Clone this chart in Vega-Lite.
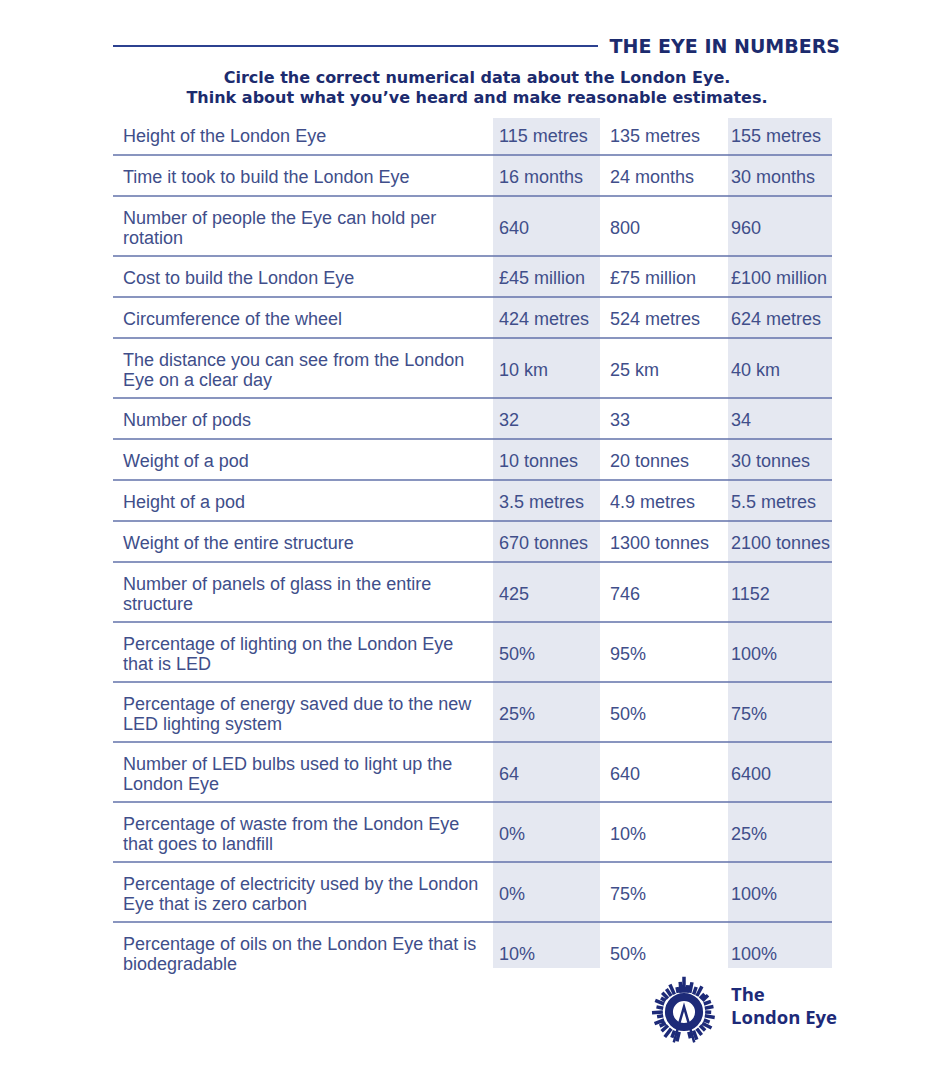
{
  "$schema": "https://vega.github.io/schema/vega-lite/v6.json",
  "width": 950,
  "height": 1080,
  "autosize": {"type": "fit", "contains": "padding"},
  "padding": 0,
  "background": "white",
  "config": {"view": {"stroke": null}},
  "datasets": {
    "rows": [
      {"q": "Height of the London Eye", "a": "115 metres", "b": "135 metres", "c": "155 metres"},
      {"q": "Time it took to build the London Eye", "a": "16 months", "b": "24 months", "c": "30 months"},
      {"q": "Number of people the Eye can hold per\nrotation", "a": "640", "b": "800", "c": "960"},
      {"q": "Cost to build the London Eye", "a": "£45 million", "b": "£75 million", "c": "£100 million"},
      {"q": "Circumference of the wheel", "a": "424 metres", "b": "524 metres", "c": "624 metres"},
      {"q": "The distance you can see from the London\nEye on a clear day", "a": "10 km", "b": "25 km", "c": "40 km"},
      {"q": "Number of pods", "a": "32", "b": "33", "c": "34"},
      {"q": "Weight of a pod", "a": "10 tonnes", "b": "20 tonnes", "c": "30 tonnes"},
      {"q": "Height of a pod", "a": "3.5 metres", "b": "4.9 metres", "c": "5.5 metres"},
      {"q": "Weight of the entire structure", "a": "670 tonnes", "b": "1300 tonnes", "c": "2100 tonnes"},
      {"q": "Number of panels of glass in the entire\nstructure", "a": "425", "b": "746", "c": "1152"},
      {"q": "Percentage of lighting on the London Eye\nthat is LED", "a": "50%", "b": "95%", "c": "100%"},
      {"q": "Percentage of energy saved due to the new\nLED lighting system", "a": "25%", "b": "50%", "c": "75%"},
      {"q": "Number of LED bulbs used to light up the\nLondon Eye", "a": "64", "b": "640", "c": "6400"},
      {"q": "Percentage of waste from the London Eye\nthat goes to landfill", "a": "0%", "b": "10%", "c": "25%"},
      {"q": "Percentage of electricity used by the London\nEye that is zero carbon", "a": "0%", "b": "75%", "c": "100%"},
      {"q": "Percentage of oils on the London Eye that is\nbiodegradable", "a": "10%", "b": "50%", "c": "100%"}
    ]
  },
  "layer": [
    {
      "data": {"name": "rows"},
      "transform": [
        {"window": [{"op": "row_number", "as": "idx"}]},
        {"calculate": "split(datum.q, '\\n')", "as": "qlines"},
        {"calculate": "length(datum.qlines) > 1 ? 60 : 41", "as": "h"},
        {"window": [{"op": "sum", "field": "h", "as": "cum"}], "sort": [{"field": "idx"}], "frame": [null, 0]},
        {"calculate": "114 + datum.cum", "as": "y1"},
        {"calculate": "datum.y1 - datum.h", "as": "y0"},
        {"calculate": "(datum.y0 + datum.y1) / 2 + 2.5", "as": "yc"},
        {"calculate": "datum.yc - (length(datum.qlines) - 1) * 10", "as": "ly"},
        {"calculate": "datum.idx == 1 ? datum.y0 + 4 : datum.y0", "as": "sy0"},
        {"calculate": "datum.idx == 17 ? datum.y1 - 14 : datum.y1", "as": "sy1"}
      ],
      "layer": [
        {
          "mark": {"type": "rect", "color": "#e5e8f1"},
          "encoding": {
            "x": {"datum": 493, "type": "quantitative", "scale": {"domain": [0, 950], "nice": false, "zero": false}, "axis": null},
            "x2": {"datum": 600},
            "y": {"field": "sy0", "type": "quantitative", "scale": {"domain": [0, 1080], "nice": false, "zero": false, "reverse": true}, "axis": null},
            "y2": {"field": "sy1"}
          }
        },
        {
          "mark": {"type": "rect", "color": "#e5e8f1"},
          "encoding": {
            "x": {"datum": 728, "type": "quantitative", "axis": null},
            "x2": {"datum": 832},
            "y": {"field": "sy0", "type": "quantitative", "axis": null},
            "y2": {"field": "sy1"}
          }
        },
        {
          "transform": [{"filter": "datum.idx < 17"}],
          "mark": {"type": "rule", "color": "#6272aa", "strokeWidth": 1.5},
          "encoding": {
            "x": {"datum": 113, "type": "quantitative", "axis": null},
            "x2": {"datum": 832},
            "y": {"field": "y1", "type": "quantitative", "axis": null}
          }
        },
        {
          "mark": {"type": "text", "align": "left", "baseline": "middle", "font": "Liberation Sans", "fontSize": 18, "lineHeight": 20, "color": "#404e8a"},
          "encoding": {
            "x": {"datum": 123, "type": "quantitative", "axis": null},
            "y": {"field": "ly", "type": "quantitative", "axis": null},
            "text": {"field": "qlines", "type": "nominal"}
          }
        },
        {
          "mark": {"type": "text", "align": "left", "baseline": "middle", "font": "Liberation Sans", "fontSize": 18, "color": "#404e8a"},
          "encoding": {
            "x": {"datum": 499, "type": "quantitative", "axis": null},
            "y": {"field": "yc", "type": "quantitative", "axis": null},
            "text": {"field": "a", "type": "nominal"}
          }
        },
        {
          "mark": {"type": "text", "align": "left", "baseline": "middle", "font": "Liberation Sans", "fontSize": 18, "color": "#404e8a"},
          "encoding": {
            "x": {"datum": 610, "type": "quantitative", "axis": null},
            "y": {"field": "yc", "type": "quantitative", "axis": null},
            "text": {"field": "b", "type": "nominal"}
          }
        },
        {
          "mark": {"type": "text", "align": "left", "baseline": "middle", "font": "Liberation Sans", "fontSize": 18, "color": "#404e8a"},
          "encoding": {
            "x": {"datum": 731, "type": "quantitative", "axis": null},
            "y": {"field": "yc", "type": "quantitative", "axis": null},
            "text": {"field": "c", "type": "nominal"}
          }
        }
      ]
    },
    {
      "data": {"values": [{}]},
      "layer": [
        {
          "mark": {"type": "rule", "color": "#2c4190", "strokeWidth": 2},
          "encoding": {
            "x": {"datum": 113, "type": "quantitative", "axis": null},
            "x2": {"datum": 598},
            "y": {"datum": 46, "type": "quantitative", "axis": null}
          }
        },
        {
          "mark": {"type": "text", "text": "THE EYE IN NUMBERS", "align": "right", "baseline": "middle", "font": "DejaVu Sans", "fontWeight": "bold", "fontSize": 19, "color": "#1c2b6e"},
          "encoding": {
            "x": {"datum": 840, "type": "quantitative", "axis": null},
            "y": {"datum": 47, "type": "quantitative", "axis": null}
          }
        },
        {
          "mark": {"type": "text", "text": ["Circle the correct numerical data about the London Eye.", "Think about what you’ve heard and make reasonable estimates."], "align": "center", "baseline": "middle", "lineHeight": 20, "font": "DejaVu Sans", "fontWeight": "bold", "fontSize": 16, "color": "#1c2b6e"},
          "encoding": {
            "x": {"datum": 477, "type": "quantitative", "axis": null},
            "y": {"datum": 78, "type": "quantitative", "axis": null}
          }
        },
        {
          "mark": {"type": "point", "shape": "M0,-0.6L0,-1.1M0.09,-0.6L0.12,-0.84M0.181,-0.6L0.25,-0.93M0.3,-0.55L0.38,-0.78M0.402,-0.5L0.56,-0.8M0.5,-0.42L0.64,-0.56M0.573,-0.35L0.75,-0.52M0.62,-0.25L0.84,-0.33M0.65,-0.12L0.92,-0.17M0.66,0L0.85,0.01M0.65,0.12L0.96,0.17M0.62,0.25L0.8,0.32M0.57,0.35L0.86,0.5M0.5,0.42L0.66,0.58M0.4,0.52L0.55,0.72M0.296,0.58L0.4,0.86M0.15,0.62L0.2,0.82M-0.15,0.62L-0.22,0.92M-0.296,0.58L-0.38,0.8M-0.4,0.52L-0.6,0.78M-0.5,0.42L-0.7,0.6M-0.57,0.35L-0.76,0.44M-0.62,0.25L-0.92,0.36M-0.65,0.12L-0.84,0.15M-0.66,0L-1,0.02M-0.65,-0.12L-0.86,-0.16M-0.62,-0.25L-0.9,-0.36M-0.573,-0.35L-0.72,-0.44M-0.5,-0.42L-0.68,-0.6M-0.402,-0.5L-0.55,-0.72M-0.3,-0.55L-0.44,-0.86M-0.181,-0.6L-0.22,-0.78M-0.09,-0.6L-0.12,-0.94", "size": 4096, "filled": false, "stroke": "#1d2a78", "strokeWidth": 3.5, "opacity": 1},
          "encoding": {
            "x": {"datum": 684, "type": "quantitative", "axis": null},
            "y": {"datum": 1012, "type": "quantitative", "axis": null}
          }
        },
        {
          "mark": {"type": "point", "shape": "circle", "size": 908, "filled": false, "stroke": "#1d2a78", "strokeWidth": 8, "opacity": 1},
          "encoding": {
            "x": {"datum": 684, "type": "quantitative", "axis": null},
            "y": {"datum": 1012, "type": "quantitative", "axis": null}
          }
        },
        {
          "mark": {"type": "point", "shape": "M-0.32,0.95L0,-0.16L0.32,0.95", "size": 4096, "filled": false, "stroke": "#1d2a78", "strokeWidth": 2.5, "opacity": 1},
          "encoding": {
            "x": {"datum": 684, "type": "quantitative", "axis": null},
            "y": {"datum": 1012, "type": "quantitative", "axis": null}
          }
        },
        {
          "mark": {"type": "text", "text": "The", "align": "left", "baseline": "middle", "font": "Open Sans", "fontWeight": "bold", "fontSize": 18.5, "color": "#1d2a78"},
          "encoding": {
            "x": {"datum": 731, "type": "quantitative", "axis": null},
            "y": {"datum": 995, "type": "quantitative", "axis": null}
          }
        },
        {
          "mark": {"type": "text", "text": "London Eye", "align": "left", "baseline": "middle", "font": "Open Sans", "fontWeight": "bold", "fontSize": 18.5, "color": "#1d2a78"},
          "encoding": {
            "x": {"datum": 731, "type": "quantitative", "axis": null},
            "y": {"datum": 1018, "type": "quantitative", "axis": null}
          }
        }
      ]
    }
  ]
}
